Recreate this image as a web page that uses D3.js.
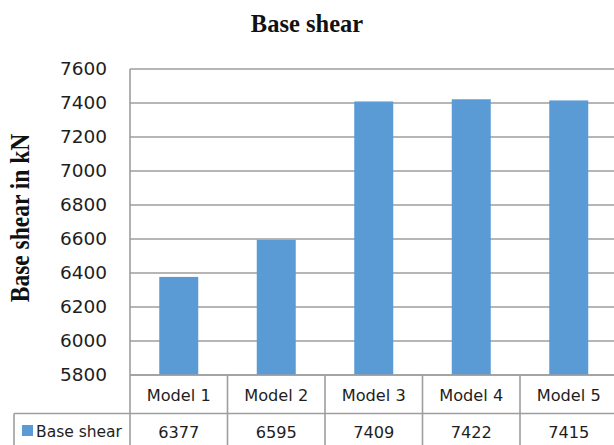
<!DOCTYPE html>
<html>
<head>
<meta charset="utf-8">
<script src="https://cdn.jsdelivr.net/npm/d3@7"></script>
<style>
  html, body { margin: 0; padding: 0; background: #ffffff; }
  svg { display: block; }
</style>
</head>
<body>
<svg id="chart" width="614" height="445"></svg>
<script>
// Chart data
const categories = ["Model 1", "Model 2", "Model 3", "Model 4", "Model 5"];
const seriesName = "Base shear";
const baseShear = [6377, 6595, 7409, 7422, 7415];
const yTicks = [5800, 6000, 6200, 6400, 6600, 6800, 7000, 7200, 7400, 7600];

const svg = d3.select("#chart");
const W = 614, H = 445;

const plot = { left: 130, right: 617.5, top: 69, bottom: 375 };
const rowH = 38.5;            // data-table row height
const tableLeft = 14;         // legend column left edge

const gridColor = "#9e9e9e";
const barColor = "#5b9bd5";
const textColor = "#1e1e1e";

const x = d3.scaleBand()
  .domain(categories)
  .range([plot.left, plot.right])
  .paddingInner(0)
  .paddingOuter(0);

const y = d3.scaleLinear()
  .domain([yTicks[0], yTicks[yTicks.length - 1]])
  .range([plot.bottom, plot.top]);

// Title
svg.append("text")
  .attr("x", 307)
  .attr("y", 32)
  .attr("text-anchor", "middle")
  .attr("font-family", "'Liberation Serif', 'Times New Roman', serif")
  .attr("font-weight", "bold")
  .attr("font-size", 24.5)
  .attr("fill", "#111")
  .text("Base shear");

// Y axis title (glyphs slightly tall)
svg.append("text")
  .attr("transform", `translate(29, 218) rotate(-90) scale(1, 1.2)`)
  .attr("text-anchor", "middle")
  .attr("font-family", "'Liberation Serif', 'Times New Roman', serif")
  .attr("font-weight", "bold")
  .attr("font-size", 23.5)
  .attr("fill", "#111")
  .text("Base shear in kN");

// Horizontal gridlines
svg.append("g")
  .selectAll("line")
  .data(yTicks)
  .join("line")
  .attr("x1", plot.left)
  .attr("x2", W)
  .attr("y1", d => y(d))
  .attr("y2", d => y(d))
  .attr("stroke", gridColor)
  .attr("stroke-width", 1.6);

// Y axis: tick labels only (the line is drawn with the table grid)
const yAxis = d3.axisLeft(y)
  .tickValues(yTicks)
  .tickFormat(d3.format("d"))
  .tickSize(0)
  .tickPadding(0);

const yAxisG = svg.append("g")
  .attr("transform", `translate(107, 0)`)
  .call(yAxis);
yAxisG.select(".domain").remove();
yAxisG.selectAll("text")
  .attr("font-family", "'DejaVu Sans', sans-serif")
  .attr("font-size", 18.5)
  .attr("fill", textColor);

// Bars
const barW = x.bandwidth() * 0.4;
svg.append("g")
  .selectAll("rect")
  .data(baseShear)
  .join("rect")
  .attr("x", (d, i) => x(categories[i]) + (x.bandwidth() - barW) / 2)
  .attr("y", d => y(d))
  .attr("width", barW)
  .attr("height", d => y(yTicks[0]) - y(d))
  .attr("fill", barColor);

// Data table grid
const grid = svg.append("g")
  .attr("stroke", gridColor)
  .attr("stroke-width", 1.6)
  .attr("fill", "none");

// left axis line continuing through the table
grid.append("line")
  .attr("x1", plot.left).attr("x2", plot.left)
  .attr("y1", plot.top).attr("y2", H);

// header top / header bottom rows
grid.append("line")
  .attr("x1", plot.left).attr("x2", W)
  .attr("y1", plot.bottom).attr("y2", plot.bottom);
grid.append("line")
  .attr("x1", tableLeft).attr("x2", W)
  .attr("y1", plot.bottom + rowH).attr("y2", plot.bottom + rowH);

// legend column left edge
grid.append("line")
  .attr("x1", tableLeft).attr("x2", tableLeft)
  .attr("y1", plot.bottom + rowH).attr("y2", H);

// column separators
grid.selectAll("line.col")
  .data(categories.slice(1).concat(["end"]))
  .join("line")
  .attr("class", "col")
  .attr("x1", (d, i) => x(categories[0]) + x.bandwidth() * (i + 1))
  .attr("x2", (d, i) => x(categories[0]) + x.bandwidth() * (i + 1))
  .attr("y1", plot.bottom)
  .attr("y2", H);

// Category header labels
svg.append("g")
  .selectAll("text")
  .data(categories)
  .join("text")
  .attr("x", d => x(d) + x.bandwidth() / 2)
  .attr("y", plot.bottom + 26)
  .attr("text-anchor", "middle")
  .attr("font-family", "'DejaVu Sans', sans-serif")
  .attr("font-size", 16.2)
  .attr("fill", textColor)
  .text(d => d);

// Value row
svg.append("g")
  .selectAll("text")
  .data(baseShear)
  .join("text")
  .attr("x", (d, i) => x(categories[i]) + x.bandwidth() / 2)
  .attr("y", plot.bottom + rowH + 24)
  .attr("text-anchor", "middle")
  .attr("font-family", "'DejaVu Sans', sans-serif")
  .attr("font-size", 16.2)
  .attr("fill", textColor)
  .text(d => d3.format("d")(d));

// Legend key in the table
svg.append("rect")
  .attr("x", 22)
  .attr("y", plot.bottom + rowH + 11.5)
  .attr("width", 11)
  .attr("height", 11)
  .attr("fill", barColor);

svg.append("text")
  .attr("x", 36)
  .attr("y", plot.bottom + rowH + 23)
  .attr("font-family", "'DejaVu Sans', sans-serif")
  .attr("font-size", 15.5)
  .attr("fill", textColor)
  .text(seriesName);
</script>
</body>
</html>
